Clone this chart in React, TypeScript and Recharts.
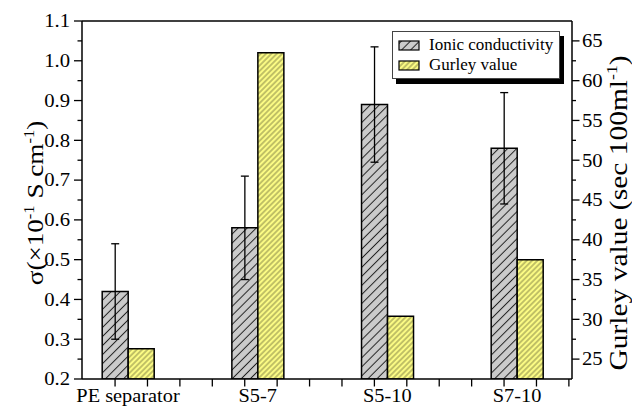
import { ComposedChart, Bar, XAxis, YAxis, ErrorBar, Legend, ReferenceLine } from 'recharts'

const categories = ['PE separator', 'S5-7', 'S5-10', 'S7-10']
const conductivity = [0.42, 0.58, 0.89, 0.78]
const conductivityError = [0.12, 0.13, 0.145, 0.14]
const gurley = [26.3, 63.5, 30.4, 37.5]

const leftTicks = [0.2, 0.25, 0.3, 0.35, 0.4, 0.45, 0.5, 0.55, 0.6, 0.65, 0.7, 0.75, 0.8, 0.85, 0.9, 0.95, 1.0, 1.05, 1.1]
const rightTicks = [22.5, 25, 27.5, 30, 32.5, 35, 37.5, 40, 42.5, 45, 47.5, 50, 52.5, 55, 57.5, 60, 62.5, 65, 67.5]
const xMinorTicks = [0.9, 1.15, 1.4, 1.65, 1.9, 2.15, 2.4, 2.65, 2.9, 3.15, 3.4, 3.65, 3.9, 4.15, 4.4]

const data = categories.map((name, i) => ({
  name,
  pos: i + 1,
  sigma: conductivity[i],
  err: conductivityError[i],
  gurley: gurley[i]
}))

const FONT = "'Liberation Serif', serif"
const textStyle = { fontFamily: FONT, fill: '#000' }

// glyphs in the source image are a bit wider than Liberation Serif
const SX = 1.15

const LeftTick = ({ x, y, payload }: any) => {
  const v = payload.value
  const major = Math.abs(v * 10 - Math.round(v * 10)) < 1e-6
  return (
    <g>
      <line x1={x - (major ? 8 : 4.5)} x2={x} y1={y} y2={y} stroke='#000' strokeWidth={1.3} />
      {major && (
        <text
          transform={`translate(${x - 12},${y}) scale(${SX},1)`}
          dy='0.35em'
          textAnchor='end'
          fontSize={18}
          style={textStyle}
        >
          {v.toFixed(1)}
        </text>
      )}
    </g>
  )
}

const RightTick = ({ x, y, payload }: any) => {
  const v = payload.value
  const major = v % 5 === 0
  if (v < 23 || v > 67) return null
  return (
    <g>
      <line x1={x} x2={x + (major ? 7.5 : 4)} y1={y} y2={y} stroke='#000' strokeWidth={1.3} />
      {major && (
        <text
          transform={`translate(${x + 10},${y}) scale(${SX},1)`}
          dy='0.35em'
          textAnchor='start'
          fontSize={18}
          style={textStyle}
        >
          {v}
        </text>
      )}
    </g>
  )
}

const BottomTick = ({ x, y, payload }: any) => {
  const v = payload.value
  if (Number.isInteger(v)) {
    return (
      <text
        transform={`translate(${x},${y + 23}) scale(1.1,1)`}
        textAnchor='middle'
        fontSize={18.5}
        style={textStyle}
      >
        {categories[v - 1]}
      </text>
    )
  }
  return <line x1={x} x2={x} y1={y} y2={y + 7.5} stroke='#000' strokeWidth={1.3} />
}

const Swatch = ({ fill }: { fill: string }) => (
  <svg width={22} height={11} style={{ display: 'block' }}>
    <rect x={1} y={1} width={20} height={9} fill={fill} stroke='#000' strokeWidth={1.2} />
  </svg>
)

const LegendBox = () => (
  <div
    style={{
      border: '1px solid #444',
      background: '#fff',
      boxShadow: '4px 5px 0 #000',
      padding: '3px 4px 3px 5px',
      fontFamily: FONT,
      fontSize: 17,
      lineHeight: '20px',
      color: '#000',
      whiteSpace: 'nowrap'
    }}
  >
    <div style={{ display: 'flex', alignItems: 'center', gap: 9 }}>
      <Swatch fill='url(#hatchGray)' />
      <span>Ionic conductivity</span>
    </div>
    <div style={{ display: 'flex', alignItems: 'center', gap: 9 }}>
      <Swatch fill='url(#hatchYellow)' />
      <span>Gurley value</span>
    </div>
  </div>
)

export default function App() {
  return (
    <div style={{ width: 632, height: 407, position: 'relative', background: '#fff' }}>
      <style>{'body{margin:0}'}</style>
      <ComposedChart
        width={632}
        height={407}
        data={data}
        barGap={0}
        margin={{ top: 21, right: 0, bottom: 0, left: 0 }}
      >
        <defs>
          <pattern id='hatchGray' patternUnits='userSpaceOnUse' width={6.4} height={6.4} patternTransform='rotate(45)'>
            <rect width={6.4} height={6.4} fill='#cbcbcb' />
            <line x1={3.2} y1={0} x2={3.2} y2={6.4} stroke='#222' strokeWidth={1} />
          </pattern>
          <pattern id='hatchYellow' patternUnits='userSpaceOnUse' width={3.8} height={3.8} patternTransform='rotate(45)'>
            <rect width={3.8} height={3.8} fill='#fbfb84' />
            <line x1={1.9} y1={0} x2={1.9} y2={3.8} stroke='#5a5a30' strokeWidth={0.7} />
          </pattern>
        </defs>
        <XAxis
          dataKey='pos'
          type='number'
          domain={[0.645, 4.424]}
          allowDataOverflow
          ticks={[...xMinorTicks, 1, 2, 3, 4].sort((a, b) => a - b)}
          interval={0}
          tick={<BottomTick />}
          tickLine={false}
          tickSize={0}
          tickMargin={0}
          height={28}
          axisLine={{ stroke: '#000', strokeWidth: 1.5 }}
        />
        <YAxis
          yAxisId='left'
          domain={[0.2, 1.1]}
          allowDataOverflow
          ticks={leftTicks}
          interval={0}
          tick={<LeftTick />}
          tickLine={false}
          tickSize={0}
          tickMargin={0}
          width={82}
          axisLine={{ stroke: '#000', strokeWidth: 1.5 }}
        />
        <YAxis
          yAxisId='right'
          orientation='right'
          domain={[22.5, 67.5]}
          allowDataOverflow
          ticks={rightTicks}
          interval={0}
          tick={<RightTick />}
          tickLine={false}
          tickSize={0}
          tickMargin={0}
          width={60}
          axisLine={{ stroke: '#000', strokeWidth: 1.5 }}
        />
        <ReferenceLine yAxisId='left' y={1.1} stroke='#000' strokeWidth={1.5} />
        <Bar
          yAxisId='left'
          dataKey='sigma'
          name='Ionic conductivity'
          barSize={26}
          fill='url(#hatchGray)'
          stroke='#000'
          strokeWidth={1.5}
          isAnimationActive={false}
        >
          <ErrorBar dataKey='err' direction='y' width={4} stroke='#000' strokeWidth={1.3} />
        </Bar>
        <Bar
          yAxisId='right'
          dataKey='gurley'
          name='Gurley value'
          barSize={26}
          fill='url(#hatchYellow)'
          stroke='#000'
          strokeWidth={1.5}
          isAnimationActive={false}
        />
        <Legend
          layout='vertical'
          align='center'
          verticalAlign='middle'
          content={<LegendBox />}
          wrapperStyle={{ left: 392, top: 31, width: 168, height: 'auto' }}
        />
      </ComposedChart>
      <svg width={632} height={407} style={{ position: 'absolute', left: 0, top: 0, pointerEvents: 'none' }}>
        <text transform='translate(43,203) rotate(-90) scale(1.18,1)' textAnchor='middle' fontSize={23} style={textStyle}>
          σ(×10<tspan dy={-9} fontSize={14}>-1</tspan>
          <tspan dy={9}> S cm</tspan>
          <tspan dy={-9} fontSize={14}>-1</tspan>
          <tspan dy={9}>)</tspan>
        </text>
        <text transform='translate(627,213) rotate(-90) scale(1.18,1)' textAnchor='middle' fontSize={25} style={textStyle}>
          Gurley value (sec 100ml<tspan dy={-10} fontSize={15}>-1</tspan>
          <tspan dy={10}>)</tspan>
        </text>
      </svg>
    </div>
  )
}
